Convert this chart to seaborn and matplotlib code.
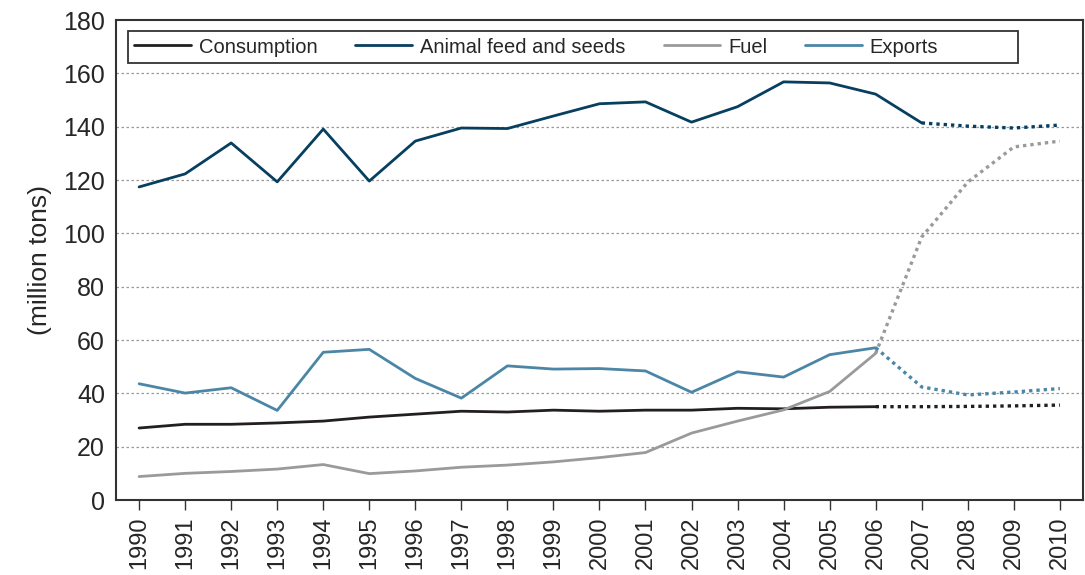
import matplotlib
matplotlib.use("Agg")
import matplotlib.pyplot as plt
from matplotlib.patches import Rectangle
import seaborn as sns
import pandas as pd

years = list(range(1990, 2011))
consumption = [27.0, 28.4, 28.4, 28.9, 29.6, 31.1, 32.2, 33.3, 33.0, 33.7, 33.3,
               33.7, 33.7, 34.4, 34.2, 34.8, 35.0, 35.0, 35.1, 35.3, 35.6]
animal_feed = [117.4, 122.3, 133.9, 119.3, 139.1, 119.6, 134.6, 139.5, 139.3, 144.0, 148.6,
               149.3, 141.7, 147.5, 156.8, 156.4, 152.2, 141.4, 140.2, 139.5, 140.6]
fuel = [8.8, 10.0, 10.7, 11.6, 13.3, 9.9, 10.9, 12.3, 13.1, 14.3, 15.9,
        17.8, 25.1, 29.6, 33.8, 40.7, 55.0, 98.6, 119.2, 132.4, 134.6]
exports = [43.6, 40.1, 42.1, 33.6, 55.4, 56.5, 45.6, 38.2, 50.3, 49.1, 49.3,
           48.4, 40.4, 48.1, 46.1, 54.5, 57.1, 42.4, 39.4, 40.5, 41.8]

series = ["Consumption", "Animal feed and seeds", "Fuel", "Exports"]
colors = ["#231f20", "#063f5f", "#999a9c", "#4b86a6"]
# last year drawn as a solid line, projection dotted after it
last_actual = {"Consumption": 2006, "Animal feed and seeds": 2007, "Fuel": 2006, "Exports": 2006}

df = pd.DataFrame({"year": years, "Consumption": consumption,
                   "Animal feed and seeds": animal_feed, "Fuel": fuel, "Exports": exports})
long = df.melt(id_vars="year", var_name="series", value_name="value")
cut = long["series"].map(last_actual)
actual = long[long["year"] <= cut]
proj = long[long["year"] >= cut]

sns.set_style("white")
plt.rcParams["font.family"] = ["Liberation Sans", "DejaVu Sans"]

fig = plt.figure(figsize=(10.85, 5.75), dpi=100)
ax = fig.add_axes([0.107, 0.1304, 0.891, 0.8348])

palette = dict(zip(series, colors))
sns.lineplot(data=actual, x="year", y="value", hue="series", hue_order=series,
             palette=palette, linewidth=2.0, ax=ax)
sns.lineplot(data=proj, x="year", y="value", hue="series", hue_order=series,
             palette=palette, linewidth=2.4, linestyle=(0, (1, 1.2)), legend=False, ax=ax)

ax.set_xlim(1989.5, 2010.5)
ax.set_ylim(0, 180)
ax.set_yticks(range(0, 181, 20))
ax.set_xticks(years)
ax.set_xticklabels([str(y) for y in years], rotation=90, fontsize=17)
ax.tick_params(axis="y", labelsize=18, length=0, pad=8)
ax.tick_params(axis="x", direction="out", length=7, width=1, color="#333333", pad=5, bottom=True)
ax.set_xlabel("")
ax.set_ylabel("(million tons)", fontsize=19, labelpad=8)

for v in range(20, 180, 20):
    ax.axhline(v, color="#999999", linestyle=(0, (2, 2)), linewidth=0.9, zorder=0)

for s in ax.spines.values():
    s.set_color("#333333")
    s.set_linewidth(1.5)

# legend box drawn separately, entries packed from the left
ax.add_patch(Rectangle((0.0124, 0.9104), 0.9204, 0.0666, transform=ax.transAxes,
                       fill=True, facecolor="white", edgecolor="#333333", linewidth=1.3, zorder=3))
handles, labels = ax.get_legend_handles_labels()
leg = ax.legend(handles, labels, ncol=4, loc="center left", bbox_to_anchor=(0.0124, 0.9437),
                frameon=False, fontsize=14.5, handlelength=2.8, handletextpad=0.4,
                columnspacing=1.9, borderaxespad=0, borderpad=0.3)
leg.set_zorder(4)

fig.savefig("out.png", dpi=100)
